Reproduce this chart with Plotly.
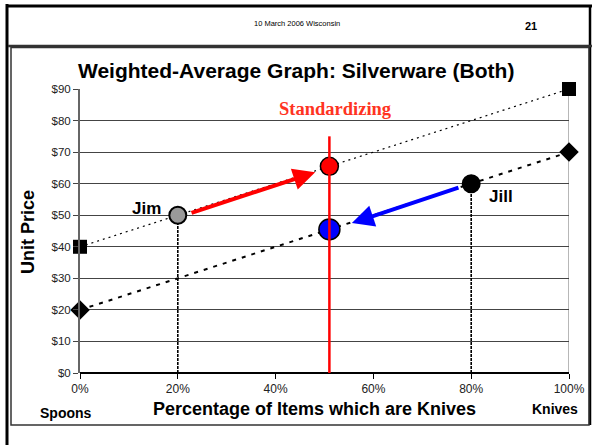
import plotly.graph_objects as go

# ---- data ----
x_ends = [0, 100]
price_both_high = [40, 90]   # squares line
price_both_low = [20, 70]    # diamonds line
people = ["Jim", "Jill"]
people_x = [20, 80]
people_y = [50, 60]
std_x = 51
std_high = 65.5
std_low = 45.5
std_line_top = 75
y_ticks = [0, 10, 20, 30, 40, 50, 60, 70, 80, 90]
y_tick_labels = ["$0", "$10", "$20", "$30", "$40", "$50", "$60", "$70", "$80", "$90"]
x_ticks = [0, 20, 40, 60, 80, 100]
x_tick_labels = ["0%", "20%", "40%", "60%", "80%", "100%"]

W, H = 592, 445
L, R, T, B = 80, 23, 89, 72
PW, PH = W - L - R, H - T - B

def px(x):
    return (x - L) / PW

def py(y):
    return (H - B - y) / PH

FONT = "Liberation Sans, Arial, sans-serif"

fig = go.Figure()

def sc(**kw):
    fig.add_trace(go.Scatter(hoverinfo="skip", showlegend=False, cliponaxis=False, **kw))

# lines
sc(x=x_ends, y=price_both_high, mode="lines", line=dict(color="black", width=1.2, dash="2px,4px"))
sc(x=x_ends, y=price_both_low, mode="lines", line=dict(color="black", width=2, dash="4px,6px"))
# vertical drops from Jim and Jill
for xv, yv in zip(people_x, people_y):
    sc(x=[xv, xv], y=[0, yv], mode="lines", line=dict(color="black", width=1.6, dash="3px,1px"))
# end markers
sc(x=x_ends, y=price_both_high, mode="markers", marker=dict(symbol="square", size=14, color="black"))
sc(x=x_ends, y=price_both_low, mode="markers", marker=dict(symbol="diamond", size=15, color="black"))
# people markers
sc(x=people_x, y=people_y, mode="markers",
   marker=dict(symbol="circle", size=17, color=["#999999", "black"], line=dict(color="black", width=2)))
# standardized markers
sc(x=[std_x], y=[std_high], mode="markers",
   marker=dict(symbol="circle", size=18, color="#FF0000", line=dict(color="black", width=1.5)))
sc(x=[std_x], y=[std_low], mode="markers",
   marker=dict(symbol="circle", size=21, color="#0000FF", line=dict(color="black", width=1.5)))
# standardizing line
sc(x=[std_x, std_x], y=[0, std_line_top], mode="lines", line=dict(color="#FF0000", width=2.5))

annotations = []
# arrows
annotations.append(dict(x=48.1, y=63.6, ax=22.5, ay=50.6, xref="x", yref="y",
                        axref="x", ayref="y", text="", showarrow=True,
                        arrowhead=2, arrowsize=1.1, arrowwidth=4, arrowcolor="#FF0000"))
annotations.append(dict(x=55.6, y=47.5, ax=77.7, ay=58.9, xref="x", yref="y",
                        axref="x", ayref="y", text="", showarrow=True,
                        arrowhead=2, arrowsize=1.1, arrowwidth=4, arrowcolor="#0000FF"))

def txt(x, y, s, size, bold=True, color="black", family=FONT, xanchor="center", angle=0):
    annotations.append(dict(x=px(x), y=py(y), xref="paper", yref="paper", text=("<b>%s</b>" % s) if bold else s,
                            showarrow=False, xanchor=xanchor, yanchor="middle", textangle=angle,
                            font=dict(size=size, color=color, family=family)))

txt(297, 23, "10 March 2006 Wisconsin", 7.5, bold=False)
txt(531, 26, "21", 11)
txt(296, 70, "Weighted-Average Graph: Silverware (Both)", 21)
txt(335, 109, "Standardizing", 18.5, color="#FF3322", family="Liberation Serif, Times New Roman, serif")
txt(146, 208, "Jim", 17)
txt(501, 196, "Jill", 17)
txt(66, 413, "Spoons", 14)
txt(555, 409, "Knives", 14)
txt(314, 409, "Percentage of Items which are Knives", 18)
txt(28, 232, "Unit Price", 18, angle=-90)

shapes = []
# outer frame
shapes.append(dict(type="line", xref="paper", yref="paper", x0=px(7), x1=px(7), y0=py(4), y1=py(450),
                   line=dict(color="black", width=3)))
shapes.append(dict(type="line", xref="paper", yref="paper", x0=px(6), x1=px(600), y0=py(6), y1=py(6),
                   line=dict(color="black", width=3)))
shapes.append(dict(type="line", xref="paper", yref="paper", x0=px(590), x1=px(590), y0=py(6), y1=py(425),
                   line=dict(color="black", width=2.5)))
shapes.append(dict(type="line", xref="paper", yref="paper", x0=px(8), x1=px(592), y0=py(46), y1=py(46),
                   line=dict(color="#333333", width=2.5)))
# inner box
shapes.append(dict(type="rect", xref="paper", yref="paper", x0=px(11), x1=px(589), y0=py(47.5), y1=py(425),
                   line=dict(color="#333333", width=1.5)))
# right border of plot area
shapes.append(dict(type="line", xref="x", yref="y", x0=100, x1=100, y0=0, y1=90,
                   line=dict(color="#888888", width=1.2), layer="below"))

fig.update_layout(
    width=W, height=H,
    margin=dict(l=L, r=R, t=T, b=B, autoexpand=False),
    paper_bgcolor="white", plot_bgcolor="white",
    showlegend=False,
    annotations=annotations,
    shapes=shapes,
    xaxis=dict(range=[0, 100], tickvals=x_ticks, ticktext=x_tick_labels,
               showgrid=False, zeroline=False, showline=False, automargin=False,
               ticks="outside", ticklen=5, tickcolor="black",
               tickfont=dict(size=12, family=FONT, color="#222222"), fixedrange=True),
    yaxis=dict(range=[0, 90], tickvals=y_ticks, ticktext=y_tick_labels,
               showgrid=True, gridcolor="#444444", gridwidth=1, automargin=False,
               zeroline=True, zerolinecolor="black", zerolinewidth=1.5,
               showline=True, linecolor="#666666", linewidth=2,
               ticks="outside", ticklen=5, tickcolor="#444444",
               tickfont=dict(size=11.5, family=FONT, color="#222222"), fixedrange=True),
)

fig.write_html(
    "out.html",
    config={"displayModeBar": False, "responsive": False},
    post_script="document.body.style.margin='0';document.body.style.padding='0';"
                "document.body.style.overflow='hidden';document.documentElement.style.overflow='hidden';",
)
